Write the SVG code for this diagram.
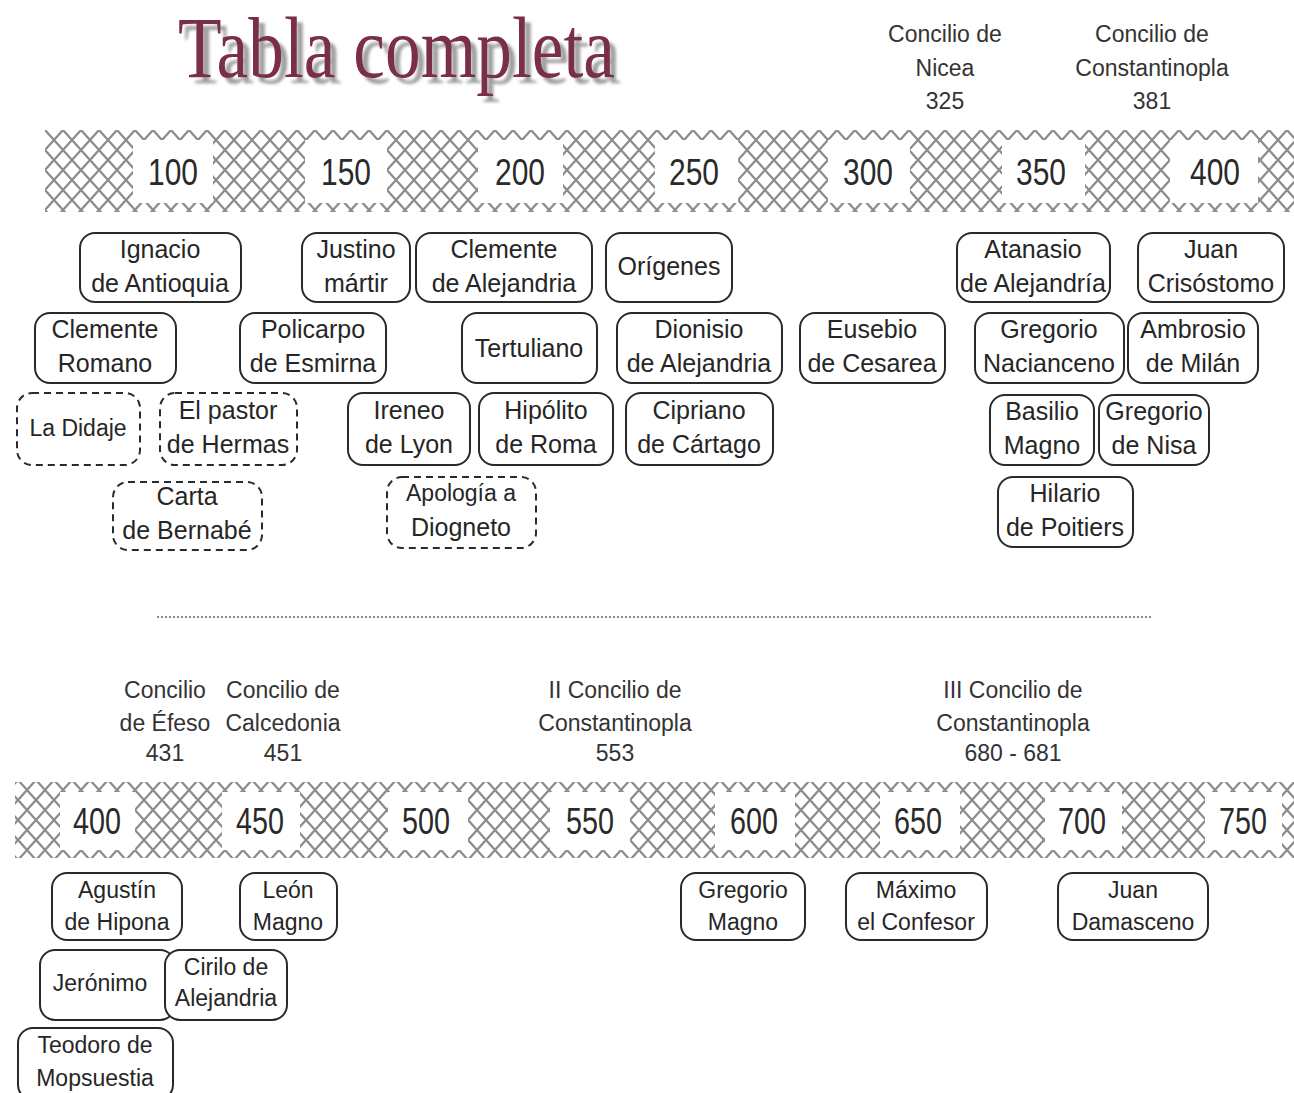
<svg xmlns="http://www.w3.org/2000/svg" width="1294" height="1093" viewBox="0 0 1294 1093">
<style>
.bx{fill:#fff;stroke:#2a2a2a;stroke-width:2}
.ds{fill:#fff;stroke:#2a2a2a;stroke-width:2;stroke-dasharray:7 5}
.t{font-family:"Liberation Sans",Arial,sans-serif;font-size:25px;fill:#262626;text-anchor:middle}
.s{font-family:"Liberation Sans",Arial,sans-serif;font-size:23px;fill:#262626;text-anchor:middle}
.c{font-family:"Liberation Sans",Arial,sans-serif;font-size:23px;fill:#333;text-anchor:middle}
.y{font-family:"Liberation Sans",Arial,sans-serif;font-size:37px;fill:#2a2a2a;text-anchor:middle}
.w{fill:#fff}
</style>
<defs>
<pattern id="hatch" x="45" y="130" width="18" height="20" patternUnits="userSpaceOnUse">
<path d="M0 0L18 20M18 0L0 20" stroke="#8c8c8c" stroke-width="2.2" fill="none"/>
</pattern>
<filter id="shadow" x="-5%" y="-20%" width="115%" height="150%">
<feGaussianBlur in="SourceAlpha" stdDeviation="1.5" result="b"/>
<feOffset in="b" dx="6" dy="6" result="o"/>
<feFlood flood-color="#a0a0a0"/>
<feComposite in2="o" operator="in" result="sh"/>
<feMerge><feMergeNode in="sh"/><feMergeNode in="SourceGraphic"/></feMerge>
</filter>
</defs>
<rect width="1294" height="1093" fill="#fff"/>

<g id="title">
<text x="178" y="77" font-family="'Liberation Serif','Times New Roman',serif" font-size="86" fill="#7a2e47" textLength="437" lengthAdjust="spacingAndGlyphs" filter="url(#shadow)">Tabla completa</text>
</g>

<g id="councils-top">
<text class="c" x="945" y="42">Concilio de</text>
<text class="c" x="945" y="76">Nicea</text>
<text class="c" x="945" y="109">325</text>
<text class="c" x="1152" y="42">Concilio de</text>
<text class="c" x="1152" y="76">Constantinopla</text>
<text class="c" x="1152" y="109">381</text>
</g>

<g id="band-top">
<rect x="45" y="130" width="1249" height="82" fill="url(#hatch)"/>
<rect class="w" x="133" y="140" width="80" height="63"/>
<rect class="w" x="305" y="140" width="82" height="63"/>
<rect class="w" x="478" y="140" width="85" height="63"/>
<rect class="w" x="655" y="140" width="83" height="63"/>
<rect class="w" x="828" y="140" width="82" height="63"/>
<rect class="w" x="1002" y="140" width="83" height="63"/>
<rect class="w" x="1170" y="140" width="88" height="63"/>
<text class="y" x="173" y="185" textLength="50" lengthAdjust="spacingAndGlyphs">100</text>
<text class="y" x="346" y="185" textLength="50" lengthAdjust="spacingAndGlyphs">150</text>
<text class="y" x="520" y="185" textLength="50" lengthAdjust="spacingAndGlyphs">200</text>
<text class="y" x="694" y="185" textLength="50" lengthAdjust="spacingAndGlyphs">250</text>
<text class="y" x="868" y="185" textLength="50" lengthAdjust="spacingAndGlyphs">300</text>
<text class="y" x="1041" y="185" textLength="50" lengthAdjust="spacingAndGlyphs">350</text>
<text class="y" x="1215" y="185" textLength="50" lengthAdjust="spacingAndGlyphs">400</text>
</g>

<g id="n-ignacio"><rect class="bx" x="80" y="233" width="161" height="69" rx="15"/><text class="t" x="160" y="258">Ignacio</text><text class="t" x="160" y="292">de Antioquia</text></g>
<g id="n-justino"><rect class="bx" x="302" y="233" width="108" height="69" rx="15"/><text class="t" x="356" y="258">Justino</text><text class="t" x="356" y="292">mártir</text></g>
<g id="n-clemente-alej"><rect class="bx" x="416" y="233" width="176" height="69" rx="15"/><text class="t" x="504" y="258">Clemente</text><text class="t" x="504" y="292">de Alejandria</text></g>
<g id="n-origenes"><rect class="bx" x="606" y="233" width="126" height="69" rx="15"/><text class="t" x="669" y="275">Orígenes</text></g>
<g id="n-atanasio"><rect class="bx" x="957" y="233" width="153" height="69" rx="15"/><text class="t" x="1033" y="258">Atanasio</text><text class="t" x="1033" y="292">de Alejandría</text></g>
<g id="n-crisostomo"><rect class="bx" x="1138" y="233" width="146" height="69" rx="15"/><text class="t" x="1211" y="258">Juan</text><text class="t" x="1211" y="292">Crisóstomo</text></g>

<g id="n-clemente-romano"><rect class="bx" x="35" y="313" width="141" height="70" rx="15"/><text class="t" x="105" y="338">Clemente</text><text class="t" x="105" y="372">Romano</text></g>
<g id="n-policarpo"><rect class="bx" x="240" y="313" width="146" height="70" rx="15"/><text class="t" x="313" y="338">Policarpo</text><text class="t" x="313" y="372">de Esmirna</text></g>
<g id="n-tertuliano"><rect class="bx" x="462" y="313" width="135" height="70" rx="15"/><text class="t" x="529" y="357">Tertuliano</text></g>
<g id="n-dionisio"><rect class="bx" x="617" y="313" width="165" height="70" rx="15"/><text class="t" x="699" y="338">Dionisio</text><text class="t" x="699" y="372">de Alejandria</text></g>
<g id="n-eusebio"><rect class="bx" x="800" y="313" width="145" height="70" rx="15"/><text class="t" x="872" y="338">Eusebio</text><text class="t" x="872" y="372">de Cesarea</text></g>
<g id="n-nacianceno"><rect class="bx" x="975" y="313" width="149" height="70" rx="15"/><text class="t" x="1049" y="338">Gregorio</text><text class="t" x="1049" y="372">Nacianceno</text></g>
<g id="n-ambrosio"><rect class="bx" x="1128" y="313" width="130" height="70" rx="15"/><text class="t" x="1193" y="338">Ambrosio</text><text class="t" x="1193" y="372">de Milán</text></g>

<g id="n-didaje"><rect class="ds" x="17" y="393" width="123" height="72" rx="15"/><text class="s" x="78" y="436">La Didaje</text></g>
<g id="n-pastor"><rect class="ds" x="160" y="393" width="137" height="72" rx="15"/><text class="t" x="228" y="419">El pastor</text><text class="t" x="228" y="453">de Hermas</text></g>
<g id="n-ireneo"><rect class="bx" x="348" y="393" width="122" height="72" rx="15"/><text class="t" x="409" y="419">Ireneo</text><text class="t" x="409" y="453">de Lyon</text></g>
<g id="n-hipolito"><rect class="bx" x="479" y="393" width="134" height="72" rx="15"/><text class="t" x="546" y="419">Hipólito</text><text class="t" x="546" y="453">de Roma</text></g>
<g id="n-cipriano"><rect class="bx" x="626" y="393" width="147" height="72" rx="15"/><text class="t" x="699" y="419">Cipriano</text><text class="t" x="699" y="453">de Cártago</text></g>
<g id="n-basilio"><rect class="bx" x="990" y="395" width="104" height="70" rx="15"/><text class="t" x="1042" y="420">Basilio</text><text class="t" x="1042" y="454">Magno</text></g>
<g id="n-nisa"><rect class="bx" x="1099" y="395" width="110" height="70" rx="15"/><text class="t" x="1154" y="420">Gregorio</text><text class="t" x="1154" y="454">de Nisa</text></g>

<g id="n-bernabe"><rect class="ds" x="113" y="482" width="149" height="68" rx="15"/><text class="t" x="187" y="505">Carta</text><text class="t" x="187" y="539">de Bernabé</text></g>
<g id="n-diogneto"><rect class="ds" x="387" y="477" width="149" height="71" rx="15"/><text class="s" x="461" y="501">Apología a</text><text class="t" x="461" y="536">Diogneto</text></g>
<g id="n-hilario"><rect class="bx" x="998" y="477" width="135" height="70" rx="15"/><text class="t" x="1065" y="502">Hilario</text><text class="t" x="1065" y="536">de Poitiers</text></g>

<line id="separator" x1="157" y1="617" x2="1153" y2="617" stroke="#666" stroke-width="1.6" stroke-dasharray="2 2"/>

<g id="councils-bottom">
<text class="c" x="165" y="698">Concilio</text>
<text class="c" x="165" y="731">de Éfeso</text>
<text class="c" x="165" y="761">431</text>
<text class="c" x="283" y="698">Concilio de</text>
<text class="c" x="283" y="731">Calcedonia</text>
<text class="c" x="283" y="761">451</text>
<text class="c" x="615" y="698">II Concilio de</text>
<text class="c" x="615" y="731">Constantinopla</text>
<text class="c" x="615" y="761">553</text>
<text class="c" x="1013" y="698">III Concilio de</text>
<text class="c" x="1013" y="731">Constantinopla</text>
<text class="c" x="1013" y="761">680 - 681</text>
</g>

<g id="band-bottom">
<rect x="15" y="782" width="1279" height="76" fill="url(#hatch)"/>
<rect class="w" x="60" y="792" width="75" height="58"/>
<rect class="w" x="222" y="792" width="78" height="58"/>
<rect class="w" x="388" y="792" width="80" height="58"/>
<rect class="w" x="550" y="792" width="80" height="58"/>
<rect class="w" x="715" y="792" width="80" height="58"/>
<rect class="w" x="880" y="792" width="80" height="58"/>
<rect class="w" x="1045" y="792" width="77" height="58"/>
<rect class="w" x="1205" y="792" width="77" height="58"/>
<text class="y" x="97" y="834" textLength="48" lengthAdjust="spacingAndGlyphs">400</text>
<text class="y" x="260" y="834" textLength="48" lengthAdjust="spacingAndGlyphs">450</text>
<text class="y" x="426" y="834" textLength="48" lengthAdjust="spacingAndGlyphs">500</text>
<text class="y" x="590" y="834" textLength="48" lengthAdjust="spacingAndGlyphs">550</text>
<text class="y" x="754" y="834" textLength="48" lengthAdjust="spacingAndGlyphs">600</text>
<text class="y" x="918" y="834" textLength="48" lengthAdjust="spacingAndGlyphs">650</text>
<text class="y" x="1082" y="834" textLength="48" lengthAdjust="spacingAndGlyphs">700</text>
<text class="y" x="1243" y="834" textLength="48" lengthAdjust="spacingAndGlyphs">750</text>
</g>

<g id="n-agustin"><rect class="bx" x="52" y="873" width="130" height="67" rx="15"/><text class="s" x="117" y="898">Agustín</text><text class="s" x="117" y="930">de Hipona</text></g>
<g id="n-leon"><rect class="bx" x="240" y="873" width="97" height="67" rx="15"/><text class="s" x="288" y="898">León</text><text class="s" x="288" y="930">Magno</text></g>
<g id="n-gregorio-magno"><rect class="bx" x="681" y="873" width="124" height="67" rx="15"/><text class="s" x="743" y="898">Gregorio</text><text class="s" x="743" y="930">Magno</text></g>
<g id="n-maximo"><rect class="bx" x="846" y="873" width="141" height="67" rx="15"/><text class="s" x="916" y="898">Máximo</text><text class="s" x="916" y="930">el Confesor</text></g>
<g id="n-damasceno"><rect class="bx" x="1058" y="873" width="150" height="67" rx="15"/><text class="s" x="1133" y="898">Juan</text><text class="s" x="1133" y="930">Damasceno</text></g>
<g id="n-jeronimo"><rect class="bx" x="40" y="950" width="135" height="70" rx="15"/><text class="s" x="100" y="991">Jerónimo</text></g>
<g id="n-cirilo"><rect class="bx" x="165" y="950" width="122" height="70" rx="15"/><text class="s" x="226" y="975">Cirilo de</text><text class="s" x="226" y="1006">Alejandria</text></g>
<g id="n-teodoro"><rect class="bx" x="18" y="1028" width="155" height="72" rx="15"/><text class="s" x="95" y="1053">Teodoro de</text><text class="s" x="95" y="1086">Mopsuestia</text></g>

<g id="connectors"/>
</svg>
